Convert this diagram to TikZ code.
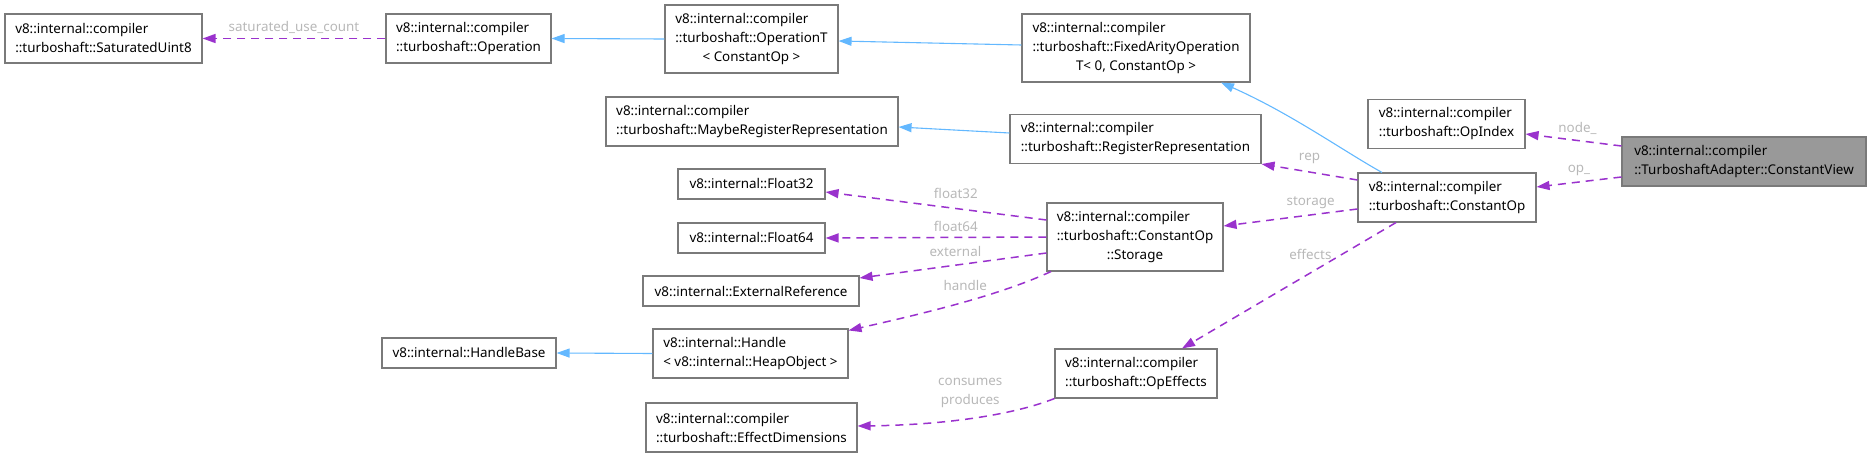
\documentclass[tikz,border=0pt]{standalone}
\usepackage{fontspec}
\setmainfont{Noto Sans}
\usetikzlibrary{arrows.meta}
\definecolor{edgeblue}{HTML}{63B8FF}
\definecolor{edgepurple}{HTML}{9A32CD}
\definecolor{lblgray}{HTML}{B8B8B8}
\definecolor{boxgray}{HTML}{7A7A7A}
\definecolor{fillgray}{HTML}{999999}
\newcommand{\threeline}[3]{\begin{tabular}{@{}l@{}}#1\\#2\\\multicolumn{1}{@{}c@{}}{#3}\end{tabular}}
\tikzset{
  cls/.style={draw=boxgray, line width=1.1pt, fill=white, inner sep=0pt, align=left,
    font=\fontsize{13.4}{19}\selectfont},
  cls1/.style={cls, minimum height=30pt},
  cls2/.style={cls, minimum height=49pt},
  cls3/.style={cls, minimum height=68pt},
  inherit/.style={draw=edgeblue, line width=1.1pt, -{Triangle[length=13pt,width=9pt]}},
  usage/.style={draw=edgepurple, line width=1.5pt, dash pattern=on 8pt off 6pt,
    -{Triangle[length=13pt,width=9pt]}},
  lbl/.style={text=lblgray, font=\fontsize{13.4}{19}\selectfont, inner sep=0pt, align=center},
}
\begin{document}
\begin{tikzpicture}[x=1pt, y=-1pt]
    \useasboundingbox (0,0) rectangle (1869,457);
    % classes
    \node[cls2, minimum width=197pt] (satuint) at (103.5,38.5) {v8::internal::compiler\\::turboshaft::SaturatedUint8};
    \node[cls2, minimum width=165pt] (operation) at (468.5,38.5) {v8::internal::compiler\\::turboshaft::Operation};
    \node[cls3, minimum width=173pt] (operationt) at (751.5,39) {\threeline{v8::internal::compiler}{::turboshaft::OperationT}{< ConstantOp >}};
    \node[cls3, minimum width=228pt] (fixedarity) at (1136,48) {\threeline{v8::internal::compiler}{::turboshaft::FixedArityOperation}{T< 0, ConstantOp >}};
    \node[cls2, minimum width=292pt] (mayberep) at (752,121.5) {v8::internal::compiler\\::turboshaft::MaybeRegisterRepresentation};
    \node[cls2, minimum width=251pt] (regrep) at (1135.5,139) {v8::internal::compiler\\::turboshaft::RegisterRepresentation};
    \node[cls2, minimum width=157pt] (opindex) at (1446.5,124) {v8::internal::compiler\\::turboshaft::OpIndex};
    \node[cls2, minimum width=244pt, fill=fillgray] (constview) at (1744,161.5) {v8::internal::compiler\\::TurboshaftAdapter::ConstantView};
    \node[cls2, minimum width=178pt] (constop) at (1447,197.5) {v8::internal::compiler\\::turboshaft::ConstantOp};
    \node[cls1, minimum width=147pt] (float32) at (751.5,184) {v8::internal::Float32};
    \node[cls1, minimum width=147pt] (float64) at (751.5,238) {v8::internal::Float64};
    \node[cls1, minimum width=216pt] (extref) at (751,291) {v8::internal::ExternalReference};
    \node[cls3, minimum width=176pt] (storage) at (1135,237) {\threeline{v8::internal::compiler}{::turboshaft::ConstantOp}{::Storage}};
    \node[cls1, minimum width=174pt] (handlebase) at (469,353) {v8::internal::HandleBase};
    \node[cls2, minimum width=195pt] (handle) at (750.5,353.5) {v8::internal::Handle\\< v8::internal::HeapObject >};
    \node[cls2, minimum width=162pt] (opeffects) at (1136,373.5) {v8::internal::compiler\\::turboshaft::OpEffects};
    \node[cls2, minimum width=211pt] (effdims) at (751.5,427.5) {v8::internal::compiler\\::turboshaft::EffectDimensions};

    % inheritance
    \draw[inherit] (operationt.west) -- (operation.east);
    \draw[inherit] ([yshift=3pt]fixedarity.west) -- ([yshift=-2pt]operationt.east);
    \draw[inherit] ([xshift=-65pt]constop.north) .. controls (1345,152) and (1290,113) .. ([xshift=85pt]fixedarity.south);
    \draw[inherit] ([yshift=6pt]regrep.west) -- ([yshift=-5.5pt]mayberep.east);
    \draw[inherit] (handle.west) -- (handlebase.east);

    % usage
    \draw[usage] (operation.west) -- (satuint.east)
        node[lbl, pos=.5, yshift=11pt] (lsat) {saturated\_use\_count};
    \draw[usage] ([yshift=15.5pt]constview.west) -- ([yshift=-10pt]opindex.east)
        node[lbl, pos=.5, yshift=12pt, xshift=4pt] (lnode) {node\_};
    \draw[usage] ([yshift=-15.5pt]constview.west) -- ([yshift=10.5pt]constop.east)
        node[lbl, pos=.5, yshift=12pt] (lop) {op\_};
    \draw[usage] ([yshift=17.5pt]constop.west) -- (regrep.south east)
        node[lbl, pos=.5, yshift=13.5pt] (lrep) {rep};
    \draw[usage] ([yshift=-11.5pt]constop.west) -- ([yshift=11pt]storage.east)
        node[lbl, pos=.35, yshift=12pt] (lstorage) {storage};
    \draw[usage] ([xshift=-51pt]constop.south) -- ([xshift=46pt]opeffects.north)
        node[lbl, pos=.4, yshift=18pt] (leffects) {effects};
    \draw[usage] ([yshift=17pt]storage.west) -- ([yshift=-8pt]float32.east)
        node[lbl, pos=.41, yshift=15.5pt] (lf32) {float32};
    \draw[usage] (storage.west) -- (float64.east)
        node[lbl, pos=.41, yshift=11pt] (lf64) {float64};
    \draw[usage] ([yshift=-16pt]storage.west) -- ([yshift=13pt]extref.east)
        node[lbl, pos=.487, yshift=14pt] (lext) {external};
    \draw[usage] ([xshift=-84pt]storage.south) .. controls (1000,295) and (930,312) .. ([yshift=-2pt]handle.north east)
        node[lbl, pos=.45, yshift=15pt, xshift=-6pt] (lhandle) {handle};
    \draw[usage] (opeffects.south west) .. controls (1010,416) and (940,425) .. ([yshift=1.5pt]effdims.east)
        node[lbl, pos=.5, yshift=25pt] (ldims) {consumes\\produces};
\end{tikzpicture}
\end{document}
